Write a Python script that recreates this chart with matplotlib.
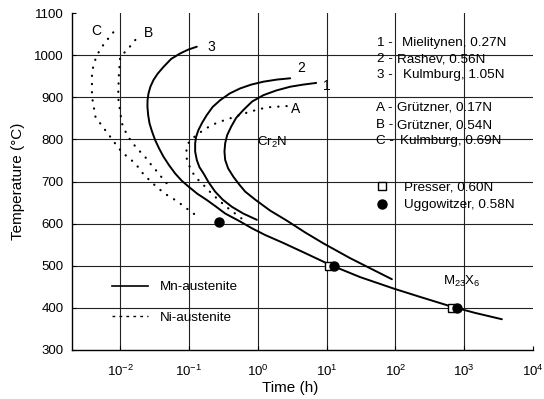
import matplotlib
matplotlib.use("Agg")
import matplotlib.pyplot as plt
from matplotlib.lines import Line2D

plt.rcParams['font.family'] = ['Liberation Sans', 'DejaVu Sans']
plt.rcParams['mathtext.fontset'] = 'custom'
plt.rcParams['mathtext.rm'] = 'Liberation Sans'
plt.rcParams['mathtext.it'] = 'Liberation Sans:italic'

# ---- data (time in hours, temperature in C) ----
c3_t = [0.130, 0.0973, 0.0745, 0.0551, 0.0426, 0.0351, 0.0305, 0.0275, 0.0258, 0.0250,
        0.0249, 0.0255, 0.0267, 0.0290, 0.0323, 0.0369, 0.0426, 0.0512, 0.0630, 0.0783,
        0.0984, 0.132, 0.182, 0.244, 0.336, 0.555, 0.821, 1.28, 2.36, 4.89, 11.3, 30.8,
        93.8, 229, 626, 1445, 3532]
c3_T = [1020, 1013, 1004, 991, 972, 956, 941, 925, 909, 893, 878, 858, 838, 819, 798, 778,
        759, 739, 719, 702, 688, 671, 656, 641, 624, 605, 589, 573, 554, 530, 502, 473,
        446, 426, 404, 388, 373]

c2_t = [2.96, 1.91, 1.21, 0.802, 0.555, 0.391, 0.284, 0.221, 0.182, 0.156, 0.137, 0.127,
        0.123, 0.123, 0.130, 0.142, 0.163, 0.193, 0.240, 0.309, 0.420, 0.614, 0.970]
c2_T = [945, 942, 937, 930, 921, 909, 893, 877, 858, 840, 822, 806, 791, 771, 751, 734,
        719, 698, 676, 657, 640, 624, 609]

c1_t = [7.06, 4.57, 2.96, 1.85, 1.21, 0.830, 0.620, 0.485, 0.410, 0.359, 0.336, 0.328,
        0.336, 0.371, 0.443, 0.537, 0.656, 0.917, 1.51, 2.65, 4.89, 9.02, 22.0, 43.0, 89.0]
c1_T = [934, 930, 925, 916, 905, 890, 870, 851, 830, 810, 791, 771, 751, 731, 711, 693,
        676, 657, 631, 607, 579, 553, 518, 494, 468]

cA_t = [2.63, 1.35, 0.776, 0.550, 0.398, 0.282, 0.214, 0.162, 0.123, 0.0977, 0.0912, 0.0933,
        0.105, 0.123, 0.162, 0.209, 0.269, 0.355, 0.468, 0.617]
cA_T = [879, 876, 866, 858, 850, 842, 834, 822, 808, 791, 771, 751, 731, 711, 692, 673, 656,
        639, 624, 609]

cB_t = [0.0166, 0.0129, 0.0100, 0.00955, 0.00933, 0.0106, 0.0120, 0.0140, 0.0174, 0.0224,
        0.0275, 0.0355, 0.0447, 0.0562]
cB_T = [1036, 1014, 996, 949, 900, 838, 818, 799, 779, 761, 742, 721, 700, 684]

cC_t = [0.00794, 0.00631, 0.00513, 0.00447, 0.00407, 0.00389, 0.00389, 0.00437, 0.00513,
        0.00646, 0.00776, 0.00944, 0.0126, 0.0166, 0.0209, 0.0263, 0.0355, 0.0479, 0.0631,
        0.0832, 0.107, 0.145]
cC_T = [1054, 1034, 1014, 995, 974, 955, 902, 854, 838, 816, 799, 779, 759, 743, 721, 704,
        684, 668, 656, 642, 628, 613]

presser_t = [10.7, 676]
presser_T = [500, 400]
uggo_t = [0.269, 12.9, 776]
uggo_T = [605, 500, 400]

curve_labels = ["1", "2", "3", "A", "B", "C"]
source_prefix = ["1 -", "2 -", "3 -", "A -", "B -", "C -"]
source_names = ["Mielitynen, 0.27N", "Rashev, 0.56N", "Kulmburg, 1.05N",
                "Grützner, 0.17N", "Grützner, 0.54N", "Kulmburg, 0.69N"]
x_ticks = [1e-2, 1e-1, 1e0, 1e1, 1e2, 1e3, 1e4]
y_ticks = [300, 400, 500, 600, 700, 800, 900, 1000, 1100]

# ---- figure ----
fig = plt.figure(figsize=(5.44, 3.99), dpi=100)
W, H = 544, 399
L, R, B, T = 72, 533, 350, 13
ax = fig.add_axes([L / W, 1 - B / H, (R - L) / W, (B - T) / H])

ax.set_xscale('log')
ax.set_xlim(10 ** -2.7, 1e4)
ax.set_ylim(300, 1100)

# grid
for xv in x_ticks[:-1]:
    ax.axvline(xv, color='#222222', lw=0.8, zorder=1)
for yv in y_ticks[1:-1]:
    ax.axhline(yv, color='#222222', lw=0.8, zorder=1)

solid = dict(color='black', lw=1.4, zorder=3, solid_capstyle='round', solid_joinstyle='round')
dotted = dict(color='black', lw=1.6, zorder=3, linestyle=(0, (0.1, 3.6)),
              dash_capstyle='round')

ax.plot(c1_t, c1_T, **solid)
ax.plot(c2_t, c2_T, **solid)
ax.plot(c3_t, c3_T, **solid)
ax.plot(cA_t, cA_T, **dotted)
ax.plot(cB_t, cB_T, **dotted)
ax.plot(cC_t, cC_T, **dotted)

ax.plot(presser_t, presser_T, 's', ms=5.5, mfc='white', mec='black', mew=1.0, zorder=4)
ax.plot(uggo_t, uggo_T, 'o', ms=6.5, color='black', zorder=5)

# spines & ticks
for s in ['top', 'right']:
    ax.spines[s].set_visible(False)
for s in ['left', 'bottom']:
    ax.spines[s].set_linewidth(1.0)
ax.set_xticks(x_ticks)
ax.set_yticks(y_ticks)
ax.minorticks_off()
ax.tick_params(direction='in', length=3, width=0.8, labelsize=9.5, pad=6)
ax.tick_params(axis='x', pad=10)

ax.set_xlabel('Time (h)', fontsize=11, va='center')
ax.set_ylabel('Temperature (°C)', fontsize=11, va='center')
ax.xaxis.set_label_coords((290 - L) / (R - L), (B - 388) / (B - T))
ax.yaxis.set_label_coords((18 - L) / (R - L), 0.5)


def af(x, y):
    return ((x - L) / (R - L), (B - y) / (B - T))


# curve labels
label_pos = [(326.7, 86), (301, 68.3), (211.7, 46.7), (296, 109.5), (148.3, 33.3), (96.7, 31)]
for lab, (px, py) in zip(curve_labels, label_pos):
    ax.text(*af(px, py), lab, transform=ax.transAxes, ha='center', va='center', fontsize=10)

ax.text(*af(272, 142), r'Cr$\mathregular{_2}$N', transform=ax.transAxes,
        ha='center', va='center', fontsize=9.5)
ax.text(*af(462, 281), r'M$\mathregular{_{23}}$X$\mathregular{_6}$', transform=ax.transAxes,
        ha='center', va='center', fontsize=9.5)

# source list
pre_x = [376.7, 376.7, 376.7, 376, 376, 376]
name_x = [401.7, 396.7, 403, 397, 397, 400]
row_y = [43, 59, 75, 108, 125, 141]
for p, n, px, nx, ry in zip(source_prefix, source_names, pre_x, name_x, row_y):
    ax.text(*af(px, ry), p, transform=ax.transAxes, ha='left', va='center', fontsize=9.7)
    ax.text(*af(nx, ry), n, transform=ax.transAxes, ha='left', va='center', fontsize=9.7)

# legends
h_mn = Line2D([], [], color='black', lw=1.2)
h_ni = Line2D([], [], color='black', lw=1.0, linestyle=(0, (2, 3)))
leg1 = ax.legend([h_mn, h_ni], ['Mn-austenite', 'Ni-austenite'], loc='upper left',
                 bbox_to_anchor=af(112, 281), frameon=False, fontsize=9.7,
                 handlelength=2.67, handletextpad=0.85, labelspacing=1.33,
                 borderpad=0, borderaxespad=0)
ax.add_artist(leg1)
h_pr = Line2D([], [], marker='s', ms=5.5, mfc='white', mec='black', mew=1.0, linestyle='none')
h_ug = Line2D([], [], marker='o', ms=6.5, color='black', linestyle='none')
leg2 = ax.legend([h_pr, h_ug], ['Presser, 0.60N', 'Uggowitzer, 0.58N'], loc='upper left',
                 bbox_to_anchor=af(372, 181), frameon=False, fontsize=9.7,
                 handlelength=1.5, handletextpad=0.9, labelspacing=0.4,
                 borderpad=0, borderaxespad=0)

fig.savefig('out.png', dpi=100)
